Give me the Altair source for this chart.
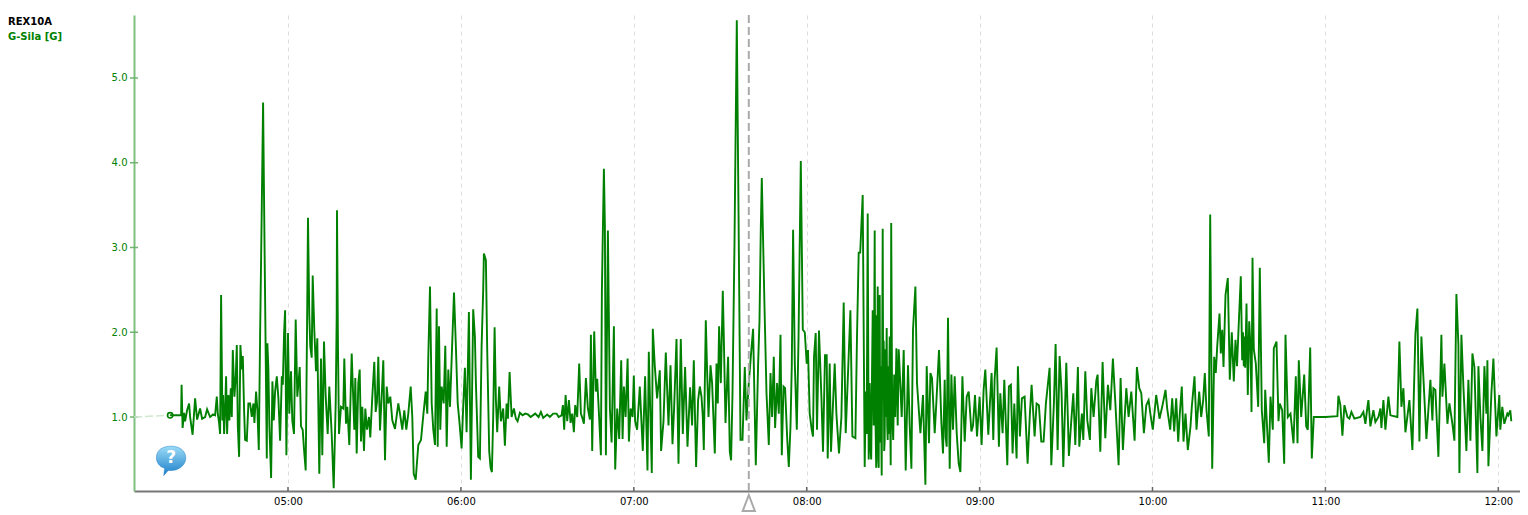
import altair as alt
import pandas as pd

# Logger samples: (sample number within the hour, G force). About 173 samples an hour.
SAMPLES_PER_HOUR = 172.9
h04 = [(55,1.02),(66,1.02),(66.5,1.38),(67.5,.87),(69,1.05),(70,.95),(72,1.08),(74,1.16),(75,1.0),(77.5,.79),(80,1.22),(82,.97),(85,1.1),(87,.98),(90,1.0),(92,1.09),(95,1.0),(98,1.03),(100,1.02),(101.7,1.24),(102.7,1.04),(104,.93),(105,.8),(106,2.44),(107.3,.96),(108,1.26),(109,.8),(110,1.08),(111,1.48),(112,.8),(113.3,1.26),(114.3,.96),(115.7,1.34),(116.7,1.0),(117.7,1.79),(119.3,1.24),(120.7,1.48),(121.7,1.85),(122.7,.9),(124,.53),(125.3,1.85),(126.7,1.56),(127.7,1.72),(129,1.08),(130,.73),(131.7,.72),(133.3,1.16),(135,1.16),(136.7,1.0),(138.3,1.16),(139.3,.93),(141,1.3),(142.3,1.08),(143.7,.61),(145,1.95),(146.7,3.5),(148,4.71),(149,3.52),(151.7,.51),(152.3,1.87),(153.3,1.56),(154.3,.89),(156,.28),(157.3,1.42),(158.7,.96),(160,1.3),(161.7,1.48),(163.3,1.22),(165,.72),(166.7,1.48),(167.7,1.38),(169,2.0),(170,2.26),(171.3,.55)]
h05 = [(0,1.99),(1.3,1.04),(3,1.54),(4.3,.96),(6,.8),(7.7,2.15),(9.3,1.24),(10.3,1.38),(11.7,1.59),(13,.89),(14.7,.85),(16,.62),(17.7,.37),(19,2.0),(20,3.35),(21.3,2.2),(22.3,1.83),(23.7,1.7),(24.7,2.67),(26.3,2.03),(28,1.54),(29.3,1.93),(31.3,.33),(33,1.69),(34.3,.55),(36,1.89),(37.7,1.24),(39.7,.8),(41.3,1.36),(43.7,.8),(45.7,.16),(47.7,1.16),(48.7,2.2),(49,3.44),(50,1.8),(51,.8),(53,1.12),(55.3,1.1),(56.3,1.69),(58,.92),(59.3,1.12),(61.3,.67),(63.7,1.75),(65.3,1.2),(66.3,.85),(67.3,1.46),(68.7,.57),(70.3,1.4),(71.7,1.56),(73,.71),(74.3,1.12),(76,.6),(77.3,1.1),(79,.85),(81,1.0),(82.3,.76),(84.3,1.24),(86.3,1.65),(87.7,1.06),(89,1.18),(90.3,1.71),(92,.84),(93.7,1.24),(95.3,1.67),(97,.49),(98.7,1.36),(100.3,1.16),(102.3,1.24),(104.3,.96),(107,.86),(110.3,1.16),(112,1.04),(114.3,.85),(116.3,1.08),(118.3,.85),(120.3,1.04),(122.7,1.36),(124.3,1.0),(125.7,.33),(127.7,.26),(130.3,.67),(133,.73),(135.3,1.02),(137.7,1.3),(139.3,1.04),(140.3,1.71),(142,2.54),(143.7,1.16),(145.3,.85),(147,.67),(148.7,2.28),(149.7,.65),(151,2.07),(152.3,.85),(153.7,1.36),(155.7,1.16),(157.3,1.84),(158.7,.65),(160.3,1.56),(162,1.12),(164.3,1.9),(166,2.47),(167.7,1.9),(169.7,1.16),(171.3,.96)]
h06 = [(.7,.63),(2.3,1.12),(4,1.58),(5.7,.82),(8,2.24),(10,.26),(12.3,2.27),(14,1.95),(15,1.4),(17.3,.53),(19,.51),(20.7,1.83),(22.3,2.5),(23,2.93),(25,2.85),(26.3,1.8),(28.3,.6),(29.7,.4),(31,.35),(32.3,1.0),(33.7,2.06),(35,1.2),(36.3,.82),(38.3,1.36),(40,.95),(42.3,1.1),(44,.66),(45.7,1.16),(47,.98),(48.7,1.53),(50.7,1.0),(53,1.1),(55,.98),(56.7,.95),(59,1.05),(61.7,1.02),(64.3,1.04),(67,1.03),(69.7,1.0),(74.3,1.04),(77.7,1.0),(80,1.06),(82.3,.99),(86.3,1.03),(89,1.0),(92.3,1.04),(95.7,1.04),(97.7,1.0),(100.7,1.02),(102,1.14),(103.3,.85),(104.7,1.26),(106.3,.95),(108,1.2),(109.7,.93),(111.3,1.04),(113,.82),(114.3,1.14),(116.3,1.0),(118.3,1.63),(120,1.04),(121.7,.98),(123,.92),(125,1.46),(127,1.1),(129,.97),(130,1.97),(131.3,.6),(133.3,2.01),(135,1.3),(136.3,1.45),(138.3,.98),(140,.55),(141,2.5),(143,3.93),(144,3.25),(145,.55),(147,3.2),(149,1.1),(150.7,.7),(153,2.07),(154.3,.38),(156.3,1.1),(158.3,.74),(160.3,1.67),(161.7,.74),(163,1.36),(164.7,1.0),(166.7,1.69),(168,.71),(169.7,1.1),(171.7,1.0)]
h07 = [(0,1.49),(1.3,.95),(3.3,.85),(6,1.36),(9,.6),(11.3,1.48),(13.7,.37),(15,1.77),(18,.34),(19,2.04),(21,1.6),(23.3,1.22),(26,1.55),(27.3,.6),(29.7,.95),(32,1.76),(34.7,.9),(36.7,1.61),(38.7,.68),(40.3,1.1),(42.7,1.92),(44.7,.45),(47,1.92),(49,.8),(51.3,1.59),(53.7,.65),(56.3,1.35),(58.3,.9),(60,1.67),(62.3,.41),(64.3,1.2),(66,1.36),(67.7,1.24),(69,1.0),(70,.61),(72,2.14),(73.3,1.55),(74.7,1.0),(76.7,1.61),(78.3,1.4),(81,.57),(82.7,1.63),(84,1.16),(85.3,2.07),(87,1.4),(89,2.49),(90,1.95),(91.7,.93),(94.3,1.71),(96,.59),(97.3,.49),(98.7,1.28),(100.7,3.05),(103,5.68),(104.7,3.45),(106.7,.73),(108.7,.73),(111,1.59),(112.7,.96),(115,1.4),(117,1.71),(119.3,2.04),(122,.43),(124.3,1.61),(125.7,2.14),(127,3.23),(128,3.82),(130.7,2.3),(132.7,1.28),(135,.67),(136.7,1.52),(138.3,1.0),(140,1.71),(141.3,.87),(143.3,1.4),(145,1.04),(146.7,1.97),(148,.55),(149.7,1.36),(151.3,1.34),(153.3,.77),(155,.41),(156.7,.89),(158,1.61),(159.3,3.21),(161,1.63),(163,.85),(164.7,1.91),(167,4.02),(169,2.03),(171,2.0)]
h08 = [(0,1.63),(1.3,1.79),(3,1.04),(5,.85),(6.3,.77),(7.3,1.71),(9,1.99),(10.3,.85),(12.3,2.02),(14.7,1.24),(16.3,.59),(18.3,1.73),(20,1.73),(21,.51),(23,1.63),(24.3,.59),(28,1.63),(29.7,1.04),(32.3,.57),(34.7,1.0),(37,2.35),(39,.81),(41,1.42),(43.7,2.26),(45.7,.77),(48.7,.75),(50.3,1.95),(52,2.94),(53.5,2.94),(56,3.62),(58,.41),(59,1.3),(60,.8),(61,3.4),(62,.5),(63,1.4),(64,.6),(64.5,.5),(65.3,1.5),(66,2.26),(67,.9),(68,3.2),(68.5,1.2),(69.5,.4),(70,2.2),(70.5,1.0),(71,2.54),(71.5,.5),(72,.4),(72.5,2.0),(73,2.44),(73.5,.7),(74,1.6),(75,.31),(76,3.22),(76.5,1.2),(77,1.9),(77.5,.6),(78,.73),(78.5,1.8),(79,1.0),(80,2.05),(80.5,.9),(81,.73),(81.5,1.6),(82,.8),(83,1.95),(83.5,1.0),(84,.43),(84.5,3.29),(85.5,1.0),(86.5,.73),(87.5,1.5),(88.5,1.0),(89.7,1.81),(91,.9),(92,1.8),(93,1.55),(95,1.0),(97,1.79),(99,.37),(101.3,1.61),(103,.9),(104.7,.39),(106.3,2.03),(108.7,2.54),(110.3,1.4),(113.7,.81),(116.3,1.26),(118.7,.2),(120,1.6),(122.3,.69),(123.7,1.52),(125.3,1.46),(128,.81),(129.7,1.18),(132.3,1.79),(134.7,.93),(136.3,.57),(138,1.44),(139,.76),(140,.65),(141.3,2.17),(143,.39),(144.7,1.5),(146.3,.85),(148,1.48),(150,.81),(152,.45),(153.7,.35),(155.7,1.48),(158,.71),(160,1.24),(162,1.3),(164.7,.83),(166.3,.9),(168.3,1.26),(170.3,.77)]
h09 = [(0,1.24),(2,.67),(4,1.32),(5.7,1.56),(8.7,.79),(10.3,1.16),(12,1.52),(13.7,.73),(15,1.44),(17,1.82),(19.3,.65),(20.7,1.28),(23,.81),(24.7,1.44),(27.7,.43),(29.3,1.36),(31.3,1.38),(33,.57),(34.7,1.16),(37,.51),(38.3,1.6),(40.3,.77),(42.3,1.22),(45,1.24),(48,.45),(50.3,1.04),(52,1.38),(55,.77),(57,1.16),(59.3,1.14),(61.7,.71),(64,.71),(66.3,1.16),(70,1.58),(71.7,.43),(74.3,1.16),(76,1.86),(78,.61),(80,1.72),(82,1.28),(83.7,.41),(86.7,1.64),(89.3,.54),(91.7,.96),(93.7,1.28),(95.7,.67),(98.3,1.59),(99.7,.65),(102.3,1.04),(103.7,.73),(105.7,1.54),(107.7,.96),(110.3,.73),(111.7,1.34),(114,1.0),(116.7,1.43),(118,1.5),(120.7,.59),(123,1.65),(125.7,.75),(128.3,1.38),(130.7,1.08),(133.3,1.69),(135.7,1.18),(139,.43),(141,1.46),(143.3,.61),(146.7,1.34),(149,1.0),(151.7,1.3),(155,.72),(157.3,1.59),(159.7,1.34),(161.7,1.28),(164.3,.81),(166.7,1.14),(169,1.2),(171,1.02)]
h10 = [(.3,.85),(3.7,1.26),(7,.98),(9.7,1.12),(13,1.32),(14.7,1.1),(17.7,.85),(19.7,1.22),(21.7,.83),(23.7,1.22),(25.7,.71),(27.3,1.04),(29.3,1.36),(31,.71),(33,1.04),(35.3,.61),(38,.89),(39.3,1.12),(42,1.48),(44,.85),(46.7,1.3),(48.7,1.0),(50.7,1.2),(52.3,1.52),(54,1.08),(56.3,.77),(57.7,3.39),(59.7,.39),(61.7,1.71),(63.3,1.52),(64.7,1.83),(67,2.22),(68.3,1.75),(69.7,2.03),(71,1.59),(73,2.44),(75.3,2.64),(77.3,1.44),(79.3,2.0),(81.3,1.42),(83,1.91),(84.5,1.6),(86,2.03),(88.3,2.66),(89.7,1.67),(90.5,2.0),(91.3,1.6),(92,1.95),(92.7,1.58),(94,2.34),(95.3,1.26),(96.7,2.13),(98,1.83),(99,1.06),(100,2.88),(101.3,1.8),(103.3,1.63),(105.7,1.12),(107.3,2.76),(109.3,1.08),(111.7,.69),(112.7,1.32),(114.7,.85),(116.3,.46),(118,1.24),(120.3,.85),(121.3,1.81),(124,1.89),(126,.95),(127.3,1.16),(129.7,1.08),(131.7,.45),(133,1.97),(135.3,1.0),(138,1.04),(141,.69),(143.3,1.48),(145,.69),(146.3,1.67),(148.7,1.0),(151.7,1.5),(153.7,.89),(155.3,.85),(157.7,1.82),(159.3,.51),(161.3,1.0)]
h11 = [(0,1.0),(12,1.01),(13,1.25),(15,1.14),(17,.78),(19,1.14),(22,1.0),(24,.98),(26,1.06),(29,.98),(35,1.0),(38,1.06),(40,.92),(42,1.12),(43,1.2),(45,.89),(48,1.08),(50,.94),(53,1.0),(55,1.1),(56,.87),(58,1.2),(60,.85),(63,1.24),(65,1.02),(72,1.0),(74,1.89),(76,1.12),(78,1.34),(80,.82),(84,1.2),(87,.61),(90,1.98),(92,2.28),(94,.71),(96,1.95),(101,.74),(105,1.44),(107,.96),(108,1.34),(110,1.32),(113,.53),(116,1.97),(117,1.24),(119,1.63),(122,.92),(124,1.16),(127,.92),(129,.72),(131,2.45),(133,1.85),(134,.34),(136,1.97),(138,1.36),(141,.6),(143,1.44),(145,.72),(147,1.75),(149,1.59),(152,.34),(153,1.6),(155,1.0),(157,.6),(159,1.6),(161,1.04),(162,1.67),(163,.42),(166,1.28),(168,1.69),(171,.77)]
h12 = [(1,1.26),(2,.85),(4,1.12),(6,.92),(9,1.04),(10,1.02),(12,1.08),(13,.95)]
hours = [(4,h04),(5,h05),(6,h06),(7,h07),(8,h08),(9,h09),(10,h10),(11,h11),(12,h12)]

value_ticks = [1, 2, 3, 4, 5]
time_tick_labels = ["05:00", "06:00", "07:00", "08:00", "09:00", "10:00", "11:00", "12:00"]
time_ticks = [int(t[:2]) * 60 for t in time_tick_labels]
lead_in_minutes = [246.6, 259.1]
lead_in_values = [1.0, 1.02]
cursor_minute = 7 * 60 + 115 * 60 / SAMPLES_PER_HOUR
x_domain = [246.56, 727.53]
y_domain = [0.127, 5.743]
GREEN = "#008000"

rows = [{"m": h * 60 + n * 60 / SAMPLES_PER_HOUR, "v": v} for h, pts in hours for n, v in pts]
series = alt.Data(values=rows)

x_scale = alt.Scale(domain=x_domain, nice=False, zero=False)
y_scale = alt.Scale(domain=y_domain, nice=False, zero=False)
x_axis = alt.Axis(
    values=time_ticks, labelExpr="format(floor(datum.value/60),'02d')+':00'", title=None,
    ticks=False, grid=True, gridColor="#dcdcdc", gridDash=[4, 4], gridWidth=1,
    domainColor="#777777", domainWidth=2, labelColor="#000000", labelFont="DejaVu Sans",
    labelFontSize=10, labelPadding=5, labelBaseline="top", labelFlush=False)
y_axis = alt.Axis(
    values=value_ticks, format=".1f", title=None, ticks=False, grid=False,
    domainColor="#7fbf7f", domainWidth=2, labelColor=GREEN, labelFont="DejaVu Sans",
    labelFontSize=10, labelPadding=7)
X = alt.X("m:Q", scale=x_scale, axis=x_axis)
Y = alt.Y("v:Q", scale=y_scale, axis=y_axis)

y_tick_marks = alt.Chart(alt.Data(values=[{"v": v} for v in value_ticks])).mark_rule(
    color="#6fb56f", strokeWidth=1.5).encode(y=Y, x=alt.value(-4), x2=alt.value(4))
x_tick_marks = alt.Chart(alt.Data(values=[{"m": m} for m in time_ticks])).mark_rule(
    color="#666666", strokeWidth=1.5).encode(x=X, y=alt.value(472), y2=alt.value(476))

lead_in = alt.Chart(alt.Data(values=[{"m": m, "v": v} for m, v in zip(lead_in_minutes, lead_in_values)])).mark_line(
    color="#cfe6cf", strokeWidth=1.5, strokeDash=[8, 3]).encode(x=X, y=Y)
line = alt.Chart(series).mark_line(color=GREEN, strokeWidth=1.9, interpolate="linear").encode(
    x=X, y=Y, order="m:Q")
start_marker = alt.Chart(alt.Data(values=[{"m": lead_in_minutes[1], "v": lead_in_values[1]}])).mark_point(
    shape="circle", size=28, color=GREEN, strokeWidth=1.6, filled=False, opacity=1).encode(x=X, y=Y)

cursor = alt.Chart(alt.Data(values=[{"m": cursor_minute}])).mark_rule(
    color="#aaaaaa", strokeWidth=2, strokeDash=[8, 4]).encode(x=X)
cursor_handle = alt.Chart(alt.Data(values=[{"m": cursor_minute}])).mark_point(
    shape="M0,-0.5L0.38,0.5L-0.38,0.5Z", size=1024, filled=False, fill="white", stroke="#aaaaaa",
    strokeWidth=2, opacity=1).encode(x=X, y=alt.value(488))

bubble_row = [{"m": 4 * 60 + 56 * 60 / SAMPLES_PER_HOUR, "v": 0.5}]
bubble = alt.Chart(alt.Data(values=bubble_row)).mark_point(
    shape="M-0.5,-0.05C-0.5,-0.35,-0.25,-0.45,0,-0.45C0.28,-0.45,0.5,-0.3,0.5,-0.05C0.5,0.2,0.25,0.38,0,0.38L-0.1,0.38L-0.25,0.55L-0.22,0.3C-0.4,0.25,-0.5,0.1,-0.5,-0.05Z",
    size=3440, filled=True, opacity=1,
    fill=alt.Gradient(gradient="linear", x1=0, y1=0, x2=0, y2=1,
                      stops=[alt.GradientStop(color="#9bdcf7", offset=0),
                             alt.GradientStop(color="#1c7fc9", offset=1)]),
    stroke="#1c7fc9", strokeWidth=0.5).encode(x=X, y=Y)
bubble_q = alt.Chart(alt.Data(values=bubble_row)).mark_text(
    text="?", color="white", font="DejaVu Sans", fontWeight="bold", fontSize=17, baseline="middle", dy=-1).encode(x=X, y=Y)

title1 = alt.Chart(alt.Data(values=[{"t": "REX10A"}])).mark_text(
    align="left", baseline="middle", font="DejaVu Sans", fontWeight="bold", fontSize=10, color="#000000").encode(
    text="t:N", x=alt.value(-126), y=alt.value(7))
title2 = alt.Chart(alt.Data(values=[{"t": "G-Sila [G]"}])).mark_text(
    align="left", baseline="middle", font="DejaVu Sans", fontWeight="bold", fontSize=10, color=GREEN).encode(
    text="t:N", x=alt.value(-126), y=alt.value(22))

chart = alt.layer(
    y_tick_marks, x_tick_marks, lead_in, line, start_marker,
    cursor, cursor_handle, bubble, bubble_q, title1, title2,
).properties(
    width=1386, height=476,
    autosize=alt.AutoSizeParams(type="none"),
    padding={"left": 126, "top": 7, "right": 0, "bottom": 22},
    background="white",
).configure_view(stroke=None)

chart.save("out.html", embed_options={"renderer": "svg", "actions": False})
